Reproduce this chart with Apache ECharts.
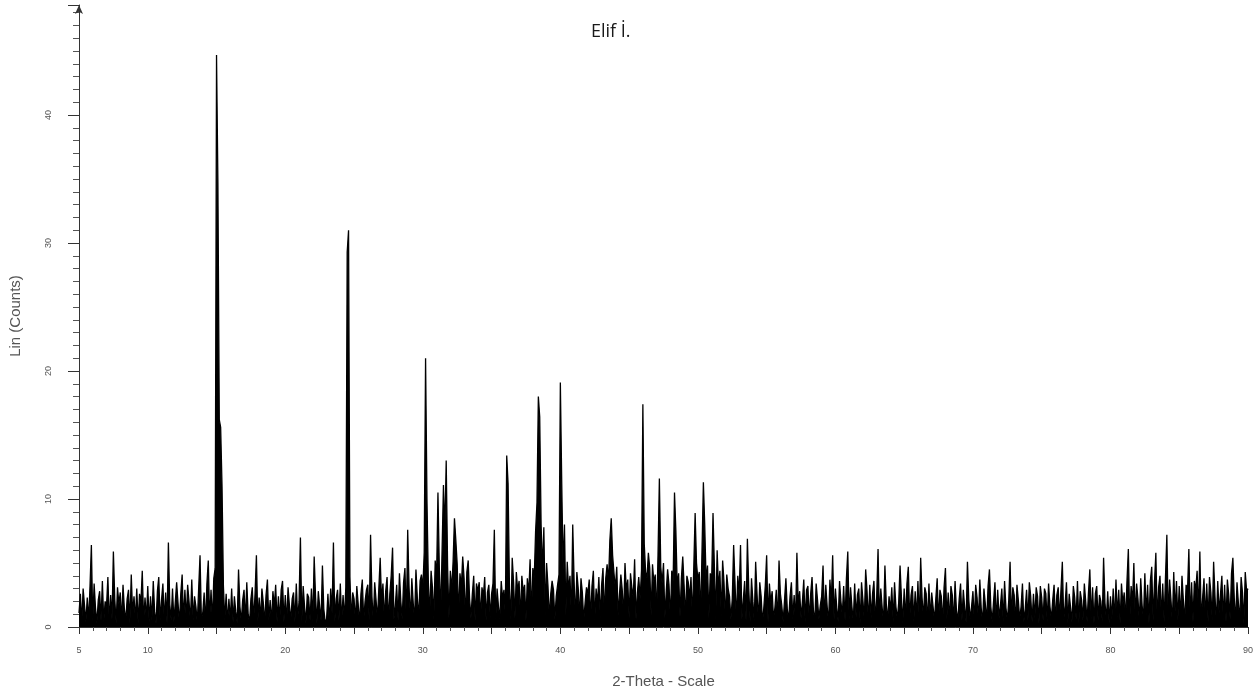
<!DOCTYPE html>
<html>
<head>
<meta charset="utf-8">
<script src="https://cdn.jsdelivr.net/npm/echarts@6/dist/echarts.min.js"></script>
<style>
html,body{margin:0;padding:0;background:#fff;}
#chart{width:1258px;height:699px;}
</style>
</head>
<body>
<div id="chart"></div>
<script>
// 2-Theta start/step of the scan (degrees)
var thetaStart = 5;
var thetaStep = 0.1;
// Lin (Counts), one row per degree (d.0 ... d.9)
var counts = [
1.1,2.6,0.3,3.0,1.7,0.4,2.3,0.5,3.2,6.4,
0.4,3.4,1.5,0.3,2.1,2.8,0.5,3.6,0.4,2.0,
1.6,3.9,0.3,2.5,0.6,5.9,2.2,0.3,3.1,1.8,
2.7,0.4,3.3,1.4,0.5,2.2,2.9,0.3,4.1,1.0,
2.4,0.5,3.0,0.3,2.6,1.9,4.4,0.4,2.3,0.6,
3.2,0.4,2.4,0.5,3.6,1.2,0.3,2.8,3.9,0.5,
2.1,3.4,0.4,2.7,0.3,6.6,1.8,0.5,3.0,0.4,
0.5,3.5,1.9,0.3,2.6,4.1,0.4,2.9,0.6,3.3,
2.0,0.4,3.7,0.5,2.4,1.6,0.3,3.0,5.6,0.6,
1.1,2.7,0.3,3.4,5.2,0.5,2.9,0.4,3.8,4.6,
44.7,34.7,16.2,15.6,11.0,3.2,0.5,2.6,0.3,2.2,
0.5,3.0,0.4,2.4,1.2,0.3,4.5,1.6,0.4,2.1,
2.9,0.4,3.5,1.0,0.3,2.2,3.1,0.5,2.6,5.6,
0.4,2.3,0.6,3.0,1.9,0.3,2.5,3.7,0.5,2.1,
0.3,2.8,1.6,3.3,0.4,2.4,0.5,2.9,3.6,0.4,
2.5,0.3,3.1,1.7,0.5,2.2,2.7,0.4,3.4,0.6,
2.0,7.0,0.4,3.2,1.6,0.3,2.6,2.3,0.5,3.0,
0.4,5.5,2.4,0.3,2.8,1.6,0.5,4.8,1.4,0.4,
0.6,2.6,0.3,3.0,1.1,6.6,0.4,2.2,2.9,0.5,
3.4,0.4,2.5,0.6,3.1,29.3,31.0,3.9,0.5,2.7,
2.2,0.4,3.2,1.8,0.3,2.6,3.7,0.5,2.0,2.9,
3.3,0.5,7.2,2.4,0.4,3.5,2.1,0.6,3.0,5.4,
2.0,3.4,0.5,2.8,3.9,0.4,2.6,4.0,6.2,0.6,
1.7,3.3,0.5,4.2,2.0,0.6,3.5,4.6,0.4,7.6,
3.1,0.6,3.8,1.9,0.5,4.5,2.3,0.7,3.6,4.1,
3.0,5.8,21.0,10.0,3.6,0.8,4.4,3.1,0.6,5.2,
3.9,10.5,4.6,0.9,6.0,11.1,7.4,13.0,4.8,0.7,
4.4,2.9,5.1,8.5,6.8,4.9,0.8,4.2,3.1,5.5,
3.8,0.6,4.3,5.2,2.2,0.7,2.6,4.0,0.5,3.4,
2.8,3.5,0.6,3.1,2.4,3.9,0.5,2.7,3.3,0.7,
2.6,3.4,7.6,0.5,3.0,1.6,0.6,3.6,2.2,2.9,
0.8,13.4,11.2,3.0,0.6,5.4,3.5,0.7,4.3,2.8,
3.6,0.6,4.0,2.7,3.3,0.5,3.8,2.6,5.3,0.8,
4.6,3.8,7.5,9.7,18.0,16.4,8.0,4.4,7.8,0.9,
5.0,3.2,0.7,2.6,3.6,2.9,0.6,2.4,3.3,4.1,
19.1,11.3,4.5,8.0,0.9,5.1,2.9,4.0,0.8,8.0,
3.6,0.6,4.3,3.0,0.7,3.8,2.7,0.5,1.9,3.1,
2.6,3.7,0.6,3.2,4.4,0.5,3.0,1.8,3.9,0.7,
3.3,4.6,0.8,3.8,4.9,3.5,6.8,8.5,5.6,4.2,
3.0,4.7,0.9,2.6,4.1,2.9,0.8,5.0,2.8,3.7,
0.7,4.2,3.1,2.3,5.3,0.6,2.7,3.9,2.2,4.4,
17.4,6.5,4.3,3.8,5.8,4.6,0.9,4.9,3.5,4.1,
0.8,5.6,11.6,4.7,3.4,5.0,0.7,2.8,4.5,3.3,
0.6,4.4,3.6,10.5,7.5,3.1,4.2,0.8,3.8,5.5,
3.2,0.7,4.0,3.5,2.3,3.9,0.6,4.6,8.9,5.0,
3.7,4.3,0.8,6.0,11.3,7.9,3.5,4.8,0.7,4.2,
3.6,8.9,4.7,0.6,6.0,3.0,4.4,0.8,5.2,3.5,
0.5,4.1,3.0,2.4,0.6,2.2,6.4,3.4,0.5,4.0,
2.5,6.4,0.6,2.1,3.6,0.5,6.9,3.0,0.4,3.8,
2.0,0.4,5.1,2.6,0.5,3.5,2.4,0.3,1.6,3.2,
5.6,0.4,3.4,1.9,2.8,0.6,1.5,2.9,0.3,5.2,
2.6,1.7,0.4,2.1,3.8,1.4,0.5,2.4,3.5,0.6,
2.5,0.3,5.8,1.6,2.8,0.7,2.0,3.7,0.4,2.9,
3.2,0.5,2.6,3.9,1.3,0.4,3.4,2.1,0.6,1.7,
2.4,4.8,0.5,3.3,1.6,0.3,3.7,1.9,5.6,0.6,
3.0,1.5,0.4,3.6,2.0,0.9,3.2,0.5,3.8,5.9,
0.6,3.1,1.6,0.4,3.4,0.8,2.5,3.0,0.3,3.5,
2.1,0.5,4.5,2.8,0.4,3.3,0.7,2.6,3.6,0.5,
2.3,6.1,0.6,3.0,1.5,0.4,4.8,1.8,0.5,2.4,
1.3,3.1,0.4,3.5,1.6,0.6,1.9,4.8,2.3,0.3,
3.0,0.5,3.4,4.7,0.6,2.5,3.2,0.4,2.8,0.7,
3.6,0.4,5.4,2.3,0.7,3.1,2.6,0.3,3.4,0.6,
2.7,1.6,0.5,2.2,3.8,0.4,2.9,2.4,0.3,3.1,
4.6,0.6,2.7,0.4,3.2,2.5,0.3,3.6,1.3,0.5,
2.2,3.4,0.5,2.9,1.5,0.4,5.1,2.1,0.6,1.6,
2.8,0.4,3.3,2.3,0.5,3.7,1.5,0.3,3.0,1.8,
0.5,3.2,4.5,1.6,0.4,2.0,3.5,0.3,2.9,0.7,
1.7,3.0,0.4,3.6,1.5,0.5,2.0,5.1,0.6,3.1,
2.5,0.3,3.3,2.1,0.6,1.6,3.4,0.4,1.4,2.9,
0.5,3.5,2.4,0.4,2.6,0.7,3.1,2.4,0.3,3.2,
2.3,0.5,3.0,2.6,0.4,3.4,1.6,0.6,2.1,3.3,
0.4,2.5,3.1,0.6,2.9,5.1,0.5,1.7,3.5,0.3,
2.6,1.5,0.4,3.2,2.3,0.6,3.6,0.3,2.8,2.1,
0.5,3.4,2.0,0.4,2.7,4.5,0.6,3.1,0.3,2.6,
3.2,0.5,2.5,2.0,0.4,5.4,1.9,0.6,2.8,0.3,
2.4,0.6,3.0,0.4,3.7,0.8,2.9,0.3,3.4,1.8,
2.7,0.5,3.6,6.1,0.4,3.2,1.9,5.0,0.6,3.4,
2.2,0.4,3.8,1.7,0.6,4.2,0.9,3.3,0.3,3.6,
4.7,0.5,3.5,5.8,0.4,3.1,4.0,0.6,3.4,0.4,
3.9,7.2,0.5,3.7,2.1,0.3,4.3,1.2,3.6,0.5,
3.2,0.6,4.0,2.1,0.4,3.3,2.8,6.1,0.5,3.5,
0.4,3.6,2.9,4.4,1.0,5.9,0.5,2.3,3.8,0.6,
3.4,0.4,3.9,2.7,0.5,5.1,2.4,0.3,3.6,1.1,
2.6,4.0,0.5,3.3,0.4,3.7,2.5,0.6,4.2,5.4,
2.3,0.4,3.5,1.9,0.5,3.9,2.7,0.3,4.3,2.8,
3.0
];
// Axis tick labels shown on the original
var xLabelValues = [5, 10, 20, 30, 40, 50, 60, 70, 80, 90];
var yLabelValues = [0, 10, 20, 30, 40];
var titleText = 'Elif İ.';
var xName = '2-Theta - Scale';
var yName = 'Lin (Counts)';

var seriesData = counts.map(function (c, i) {
  return [+(thetaStart + i * thetaStep).toFixed(2), c];
});

var chart = echarts.init(document.getElementById('chart'), null, {renderer: 'canvas'});
chart.setOption({
  animation: false,
  backgroundColor: '#ffffff',
  title: {
    text: titleText,
    left: 586,
    top: 18,
    textStyle: {fontFamily: 'Open Sans', fontSize: 18, fontWeight: 'normal', color: '#1a1a1a'}
  },
  grid: {left: 79, right: 10, top: 5, bottom: 72, containLabel: false},
  xAxis: {
    type: 'value',
    min: 5, max: 90, interval: 5,
    name: xName,
    nameLocation: 'middle',
    nameGap: 47,
    nameTextStyle: {fontFamily: 'Liberation Sans', fontSize: 15, color: '#555'},
    axisLine: {show: true, lineStyle: {color: '#333', width: 1}},
    axisTick: {show: true, length: 7, lineStyle: {color: '#333'}},
    minorTick: {show: true, splitNumber: 5, length: 4, lineStyle: {color: '#555'}},
    splitLine: {show: false},
    axisLabel: {
      margin: 19,
      fontFamily: 'Liberation Sans', fontSize: 9, color: '#555',
      formatter: function (v) { return xLabelValues.indexOf(v) >= 0 ? String(v) : ''; }
    }
  },
  yAxis: {
    type: 'value',
    min: 0, max: 48.6, interval: 10,
    name: yName,
    nameLocation: 'middle',
    nameGap: 56,
    nameTextStyle: {fontFamily: 'Liberation Sans', fontSize: 15, color: '#555'},
    axisLine: {show: true, symbol: ['none', 'arrow'], symbolSize: [6, 9], lineStyle: {color: '#333', width: 1}},
    axisTick: {show: true, length: 11, lineStyle: {color: '#333'}},
    minorTick: {show: true, splitNumber: 10, length: 6, lineStyle: {color: '#555'}},
    splitLine: {show: false},
    axisLabel: {
      rotate: 90,
      margin: 26,
      fontFamily: 'Liberation Sans', fontSize: 9, color: '#555',
      formatter: function (v) { return yLabelValues.indexOf(v) >= 0 ? String(v) : ''; }
    }
  },
  series: [{
    type: 'line',
    data: seriesData,
    showSymbol: false,
    symbol: 'none',
    sampling: null,
    lineStyle: {color: '#000', width: 1.3},
    areaStyle: {color: '#000', opacity: 1, origin: 'start'},
    z: 2
  }]
});
</script>
</body>
</html>
